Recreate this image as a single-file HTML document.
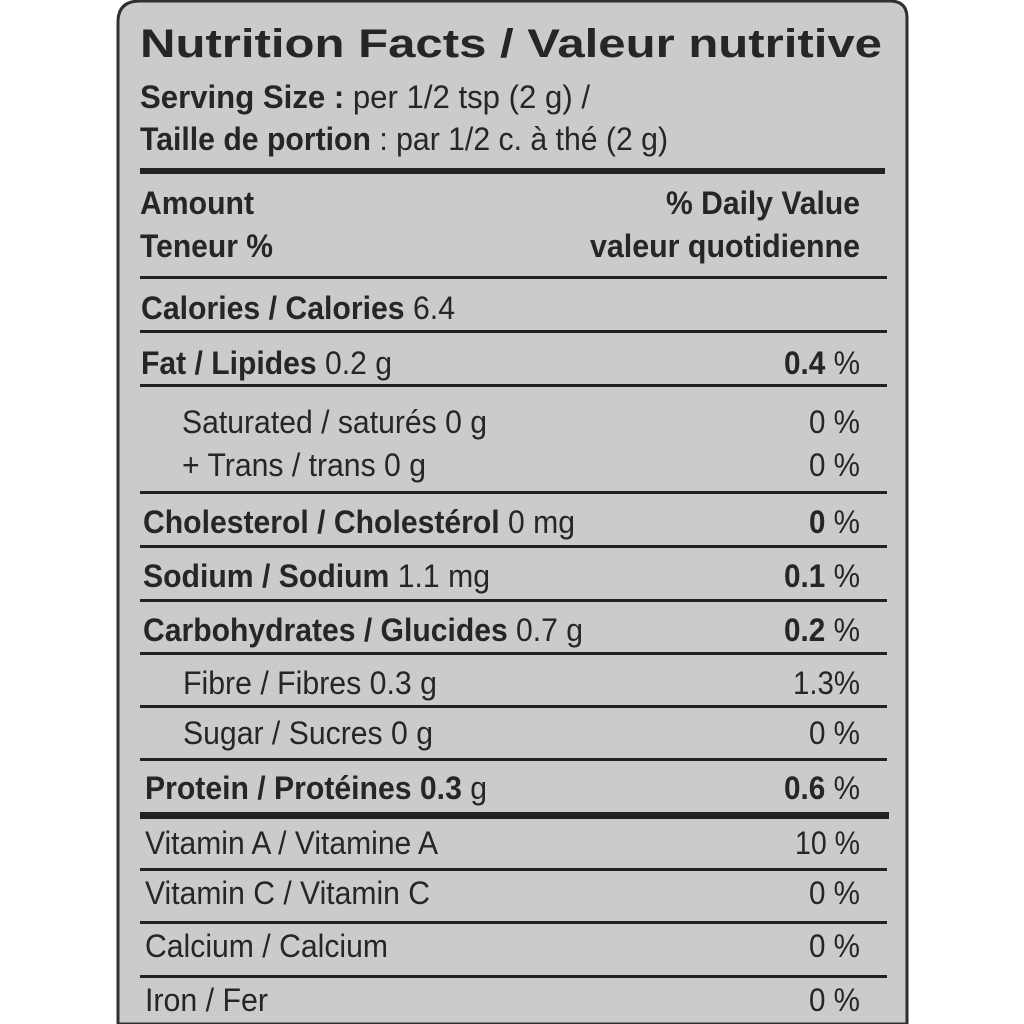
<!DOCTYPE html>
<html><head><meta charset="utf-8"><style>
html,body{margin:0;padding:0;background:#fff;}
svg{display:block;}
text{font-family:"Liberation Sans",sans-serif;fill:#262626;}
.b{font-weight:bold;}
</style></head><body>
<svg width="1024" height="1024" viewBox="0 0 1024 1024" xmlns="http://www.w3.org/2000/svg">
<rect x="0" y="0" width="1024" height="1024" fill="#fff"/>
<path d="M118,1024 L118,22 Q118,1 140,1 L890,1 Q907,1 907,18 L907,1024 Z" fill="#cbcbc9" stroke="#2d3032" stroke-width="3"/>
<g fill="#222">
<rect x="140" y="168" width="745" height="6"/>
<rect x="140" y="276" width="747" height="3"/>
<rect x="140" y="330" width="747" height="3"/>
<rect x="140" y="384" width="747" height="3"/>
<rect x="140" y="491" width="747" height="3"/>
<rect x="140" y="545" width="747" height="3"/>
<rect x="140" y="599" width="747" height="3"/>
<rect x="140" y="652" width="747" height="3"/>
<rect x="140" y="705" width="747" height="3"/>
<rect x="140" y="758" width="747" height="3"/>
<rect x="140" y="812" width="749" height="7"/>
<rect x="140" y="868" width="747" height="3"/>
<rect x="140" y="921" width="747" height="3"/>
<rect x="140" y="975" width="747" height="3"/>
</g>
<text x="140" y="57" font-size="40" class="b" textLength="742" lengthAdjust="spacingAndGlyphs">Nutrition Facts / Valeur nutritive</text>
<text x="140" y="108" font-size="32" textLength="450" lengthAdjust="spacingAndGlyphs"><tspan class="b">Serving Size :</tspan> per 1/2 tsp (2 g)  /</text>
<text x="140" y="150" font-size="32" textLength="528" lengthAdjust="spacingAndGlyphs"><tspan class="b">Taille de portion</tspan> : par 1/2 c. à thé (2 g)</text>
<text x="140" y="214" font-size="32" class="b" textLength="114" lengthAdjust="spacingAndGlyphs">Amount</text>
<text x="860" y="214" font-size="32" class="b" text-anchor="end" textLength="194" lengthAdjust="spacingAndGlyphs">% Daily Value</text>
<text x="140" y="257" font-size="32" class="b" textLength="133" lengthAdjust="spacingAndGlyphs">Teneur %</text>
<text x="860" y="257" font-size="32" class="b" text-anchor="end" textLength="270" lengthAdjust="spacingAndGlyphs">valeur quotidienne</text>
<text x="141" y="319" font-size="32" textLength="314" lengthAdjust="spacingAndGlyphs"><tspan class="b">Calories / Calories</tspan> 6.4</text>
<text x="141" y="374" font-size="32" textLength="251" lengthAdjust="spacingAndGlyphs"><tspan class="b">Fat / Lipides</tspan> 0.2 g</text>
<text x="860" y="374" font-size="32" text-anchor="end" textLength="76" lengthAdjust="spacingAndGlyphs"><tspan class="b">0.4</tspan> %</text>
<text x="182" y="433" font-size="32" textLength="305" lengthAdjust="spacingAndGlyphs">Saturated / saturés 0 g</text>
<text x="860" y="433" font-size="32" text-anchor="end" textLength="51" lengthAdjust="spacingAndGlyphs">0 %</text>
<text x="182" y="476" font-size="32" textLength="244" lengthAdjust="spacingAndGlyphs">+ Trans / trans 0 g</text>
<text x="860" y="476" font-size="32" text-anchor="end" textLength="51" lengthAdjust="spacingAndGlyphs">0 %</text>
<text x="143" y="533" font-size="32" textLength="432" lengthAdjust="spacingAndGlyphs"><tspan class="b">Cholesterol / Cholestérol</tspan> 0 mg</text>
<text x="860" y="533" font-size="32" text-anchor="end" textLength="51" lengthAdjust="spacingAndGlyphs"><tspan class="b">0</tspan> %</text>
<text x="143" y="587" font-size="32" textLength="347" lengthAdjust="spacingAndGlyphs"><tspan class="b">Sodium / Sodium</tspan> 1.1 mg</text>
<text x="860" y="587" font-size="32" text-anchor="end" textLength="76" lengthAdjust="spacingAndGlyphs"><tspan class="b">0.1</tspan> %</text>
<text x="143" y="641" font-size="32" textLength="440" lengthAdjust="spacingAndGlyphs"><tspan class="b">Carbohydrates / Glucides</tspan> 0.7 g</text>
<text x="860" y="641" font-size="32" text-anchor="end" textLength="76" lengthAdjust="spacingAndGlyphs"><tspan class="b">0.2</tspan> %</text>
<text x="183" y="694" font-size="32" textLength="254" lengthAdjust="spacingAndGlyphs">Fibre / Fibres 0.3 g</text>
<text x="860" y="694" font-size="32" text-anchor="end" textLength="67" lengthAdjust="spacingAndGlyphs">1.3%</text>
<text x="183" y="744" font-size="32" textLength="250" lengthAdjust="spacingAndGlyphs">Sugar / Sucres 0 g</text>
<text x="860" y="744" font-size="32" text-anchor="end" textLength="51" lengthAdjust="spacingAndGlyphs">0 %</text>
<text x="145" y="799" font-size="32" textLength="342" lengthAdjust="spacingAndGlyphs"><tspan class="b">Protein / Protéines 0.3</tspan> g</text>
<text x="860" y="799" font-size="32" text-anchor="end" textLength="76" lengthAdjust="spacingAndGlyphs"><tspan class="b">0.6</tspan> %</text>
<text x="145" y="854" font-size="32" textLength="293" lengthAdjust="spacingAndGlyphs">Vitamin A / Vitamine A</text>
<text x="860" y="854" font-size="32" text-anchor="end" textLength="65" lengthAdjust="spacingAndGlyphs">10 %</text>
<text x="145" y="904" font-size="32" textLength="285" lengthAdjust="spacingAndGlyphs">Vitamin C / Vitamin C</text>
<text x="860" y="904" font-size="32" text-anchor="end" textLength="51" lengthAdjust="spacingAndGlyphs">0 %</text>
<text x="145" y="957" font-size="32" textLength="243" lengthAdjust="spacingAndGlyphs">Calcium / Calcium</text>
<text x="860" y="957" font-size="32" text-anchor="end" textLength="51" lengthAdjust="spacingAndGlyphs">0 %</text>
<text x="145" y="1011" font-size="32" textLength="123" lengthAdjust="spacingAndGlyphs">Iron / Fer</text>
<text x="860" y="1011" font-size="32" text-anchor="end" textLength="51" lengthAdjust="spacingAndGlyphs">0 %</text>
</svg>
</body></html>
